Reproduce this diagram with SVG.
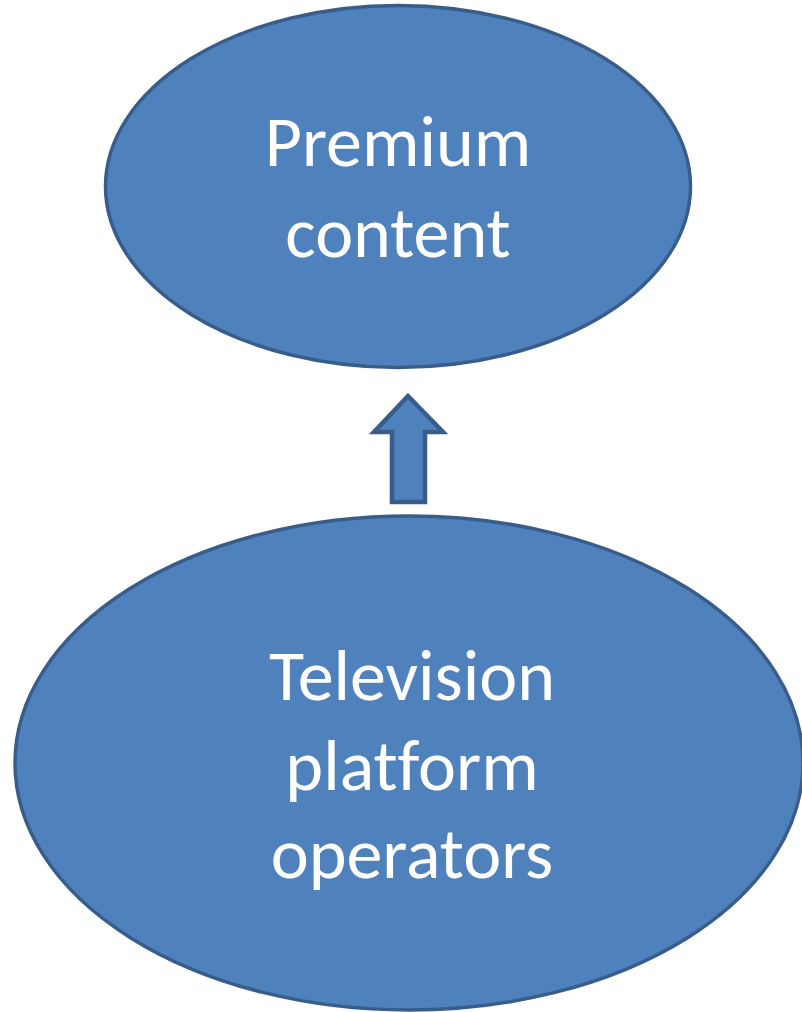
<svg xmlns="http://www.w3.org/2000/svg" width="802" height="1012" viewBox="0 0 802 1012">
<style>
.node{fill:#4F81BD;stroke:#385D8A;stroke-width:3.5}
.arrow{fill:#4F81BD;stroke:#385D8A;stroke-width:4.5;stroke-linejoin:miter}
.label{fill:#FFFFFF;font-family:Carlito,"Open Sans","Liberation Sans",sans-serif;font-size:72px;text-anchor:middle;font-variant-ligatures:none}
</style>
<rect width="802" height="1012" fill="#FFFFFF"/>
<g id="premium-content">
<ellipse class="node" cx="398" cy="186.5" rx="292.5" ry="181"/>
<text class="label" x="398" y="166">Premium</text>
<text class="label" x="398" y="257">content</text>
</g>
<g id="connectors">
<path class="arrow" d="M408,396 L443,432 L425,432 L425,502 L392,502 L392,432 L374,432 Z"/>
</g>
<g id="television-platform-operators">
<ellipse class="node" cx="409" cy="763" rx="394" ry="247"/>
<text class="label" x="412" y="700">Television</text>
<text class="label" x="412" y="790">platform</text>
<text class="label" x="412" y="878">operators</text>
</g>
</svg>
